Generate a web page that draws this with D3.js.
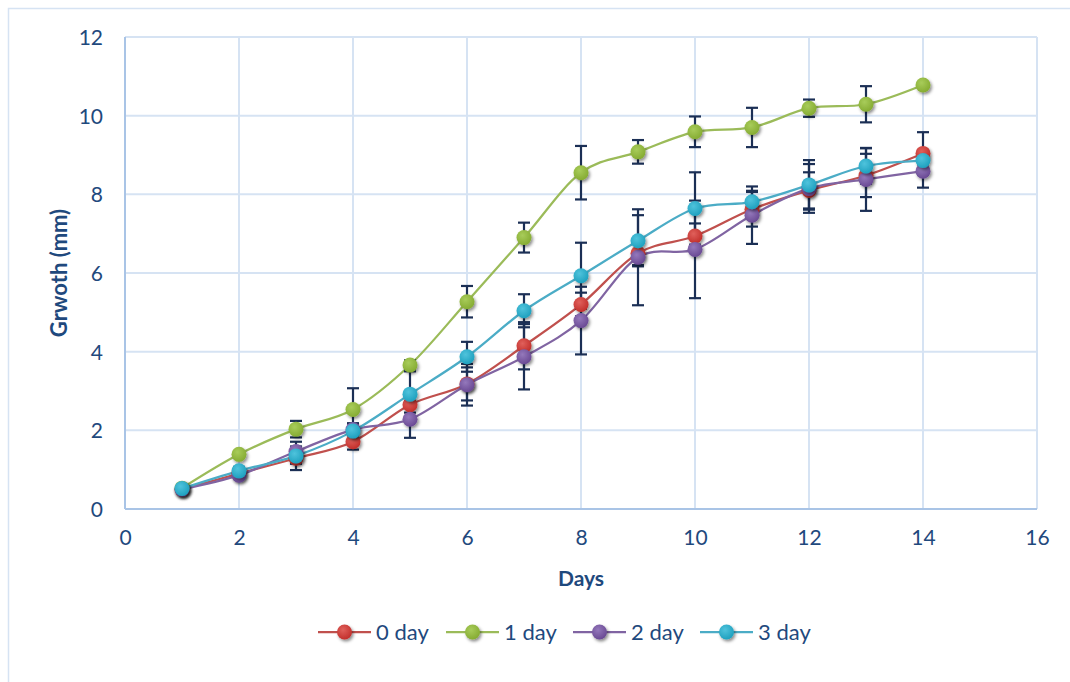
<!DOCTYPE html>
<html>
<head>
<meta charset="utf-8">
<script src="https://cdn.jsdelivr.net/npm/d3@7"></script>
<style>
  body { margin: 0; background: #fff; }
  svg { display: block; font-family: Lato, "Open Sans", sans-serif; }
</style>
</head>
<body>
<div id="chart"></div>
<script>
// ---- data ----
const days = [1, 2, 3, 4, 5, 6, 7, 8, 9, 10, 11, 12, 13, 14];
const seriesNames = ['0 day', '1 day', '2 day', '3 day'];

const day0 = [0.50, 0.90, 1.29, 1.71, 2.65, 3.18, 4.15, 5.20, 6.50, 6.94, 7.62, 8.10, 8.48, 9.04];
const day0Err = [0.05, 0.08, 0.30, 0.20, 0.20, 0.42, 0.60, 0.30, 0.30, 0.32, 0.44, 0.46, 0.55, 0.54];

const day1 = [0.53, 1.39, 2.03, 2.53, 3.66, 5.27, 6.90, 8.55, 9.08, 9.59, 9.70, 10.19, 10.29, 10.78];
const day1Err = [0.05, 0.08, 0.21, 0.54, 0.12, 0.40, 0.38, 0.68, 0.30, 0.39, 0.50, 0.22, 0.46, 0.05];

const day2 = [0.50, 0.86, 1.46, 2.02, 2.28, 3.16, 3.87, 4.79, 6.40, 6.60, 7.47, 8.15, 8.38, 8.59];
const day2Err = [0.05, 0.08, 0.25, 0.15, 0.47, 0.53, 0.83, 0.86, 1.22, 1.24, 0.73, 0.62, 0.80, 0.42];

const day3 = [0.52, 0.97, 1.35, 1.98, 2.92, 3.87, 5.04, 5.93, 6.82, 7.64, 7.81, 8.24, 8.72, 8.86];
const day3Err = [0.05, 0.10, 0.20, 0.20, 0.58, 0.38, 0.42, 0.84, 0.65, 0.92, 0.28, 0.63, 0.45, 0.10];

const xTicks = [0, 2, 4, 6, 8, 10, 12, 14, 16];
const yTicks = [0, 2, 4, 6, 8, 10, 12];

// colours: line, marker light, marker dark
const lineColors = ['#c0504d', '#9bbb59', '#8064a2', '#4bacc6'];
const markLight = ['#e0605b', '#a8cc5a', '#9478bb', '#4fc3dc'];
const markDark = ['#c2302c', '#86ac33', '#6a4a94', '#1fa1bf'];

const series = [day0, day1, day2, day3].map((vals, i) => ({
  name: seriesNames[i],
  idx: i,
  pts: days.map((d, j) => ({ x: d, y: vals[j], e: [day0Err, day1Err, day2Err, day3Err][i][j] }))
}));

// ---- layout ----
const W = 1070, H = 682;
const margin = { left: 125, right: 33, top: 37, bottom: 173 };
const textColor = '#1f497d';
const gridColor = '#d6e3f3';
const axisColor = '#a9c4e6';
const errColor = '#1b2f55';

const svg = d3.select('#chart').append('svg')
  .attr('width', W).attr('height', H);

// outer chart border
svg.append('rect')
  .attr('x', 8.5).attr('y', 8.5)
  .attr('width', W + 20).attr('height', H + 20)
  .attr('fill', 'none').attr('stroke', '#d6e3f3').attr('stroke-width', 1.5);

const x = d3.scaleLinear().domain([0, 16]).range([margin.left, W - margin.right]);
const y = d3.scaleLinear().domain([0, 12]).range([H - margin.bottom, margin.top]);

const defs = svg.append('defs');
const shadow = defs.append('filter').attr('id', 'shadow')
  .attr('x', '-50%').attr('y', '-50%').attr('width', '200%').attr('height', '200%');
shadow.append('feDropShadow')
  .attr('dx', 1.5).attr('dy', 2).attr('stdDeviation', 1.6)
  .attr('flood-color', '#000').attr('flood-opacity', 0.45);

series.forEach(s => {
  const g = defs.append('radialGradient').attr('id', 'grad' + s.idx)
    .attr('cx', '40%').attr('cy', '35%').attr('r', '65%');
  g.append('stop').attr('offset', '0%').attr('stop-color', markLight[s.idx]);
  g.append('stop').attr('offset', '100%').attr('stop-color', markDark[s.idx]);
});

// ---- grid ----
const grid = svg.append('g');
grid.selectAll('.hg').data(yTicks.filter(t => t > 0)).join('line')
  .attr('x1', x(0)).attr('x2', x(16))
  .attr('y1', d => y(d)).attr('y2', d => y(d))
  .attr('stroke', gridColor).attr('stroke-width', 2);
grid.selectAll('.vg').data(xTicks.filter(t => t > 0)).join('line')
  .attr('y1', y(0)).attr('y2', y(12))
  .attr('x1', d => x(d)).attr('x2', d => x(d))
  .attr('stroke', gridColor).attr('stroke-width', 2);

// axis lines
svg.append('line').attr('x1', x(0)).attr('x2', x(0)).attr('y1', y(0)).attr('y2', y(12))
  .attr('stroke', axisColor).attr('stroke-width', 2);
svg.append('line').attr('x1', x(0)).attr('x2', x(16)).attr('y1', y(0)).attr('y2', y(0))
  .attr('stroke', axisColor).attr('stroke-width', 2);

// tick labels via d3 axes
const yAxis = svg.append('g')
  .attr('transform', `translate(${x(0) - 22},0)`)
  .call(d3.axisLeft(y).tickValues(yTicks).tickSize(0).tickPadding(0));
const xAxis = svg.append('g')
  .attr('transform', `translate(0,${y(0) + 20})`)
  .call(d3.axisBottom(x).tickValues(xTicks).tickSize(0).tickPadding(0));
[xAxis, yAxis].forEach(a => {
  a.select('.domain').remove();
  a.selectAll('text').attr('fill', textColor).style('font-size', '21px')
    .style('font-family', 'Lato, "Open Sans", sans-serif');
});
yAxis.selectAll('text').attr('dy', '0.35em');
xAxis.selectAll('text').attr('dy', '0.75em');

// axis titles
svg.append('text')
  .attr('transform', `translate(67,${(y(0) + y(12)) / 2}) rotate(-90)`)
  .attr('text-anchor', 'middle')
  .attr('fill', textColor).style('font-size', '22px').style('font-weight', 'bold')
  .text('Grwoth (mm)');
svg.append('text')
  .attr('x', (x(0) + x(16)) / 2).attr('y', 586)
  .attr('text-anchor', 'middle')
  .attr('fill', textColor).style('font-size', '21px').style('font-weight', 'bold')
  .text('Days');

// ---- lines ----
const line = d3.line()
  .x(d => x(d.x)).y(d => y(d.y))
  .curve(d3.curveCardinal.tension(0));

svg.append('g').selectAll('path').data(series).join('path')
  .attr('d', s => line(s.pts))
  .attr('fill', 'none')
  .attr('stroke', s => lineColors[s.idx])
  .attr('stroke-width', 2.25);

// ---- error bars ----
const capW = 6;
const eb = svg.append('g').attr('stroke', errColor).attr('stroke-width', 2.2);
series.forEach(s => {
  const g = eb.append('g');
  g.selectAll('.stem').data(s.pts).join('line')
    .attr('x1', d => x(d.x)).attr('x2', d => x(d.x))
    .attr('y1', d => y(d.y + d.e)).attr('y2', d => y(d.y - d.e));
  g.selectAll('.capt').data(s.pts).join('line')
    .attr('x1', d => x(d.x) - capW).attr('x2', d => x(d.x) + capW)
    .attr('y1', d => y(d.y + d.e)).attr('y2', d => y(d.y + d.e));
  g.selectAll('.capb').data(s.pts).join('line')
    .attr('x1', d => x(d.x) - capW).attr('x2', d => x(d.x) + capW)
    .attr('y1', d => y(d.y - d.e)).attr('y2', d => y(d.y - d.e));
});

// ---- markers ----
series.forEach(s => {
  svg.append('g').attr('filter', 'url(#shadow)')
    .selectAll('circle').data(s.pts).join('circle')
    .attr('cx', d => x(d.x)).attr('cy', d => y(d.y)).attr('r', 7.5)
    .attr('fill', `url(#grad${s.idx})`);
});

// ---- legend ----
const legendX = [318, 446, 573, 700];
const legend = svg.append('g').selectAll('g').data(series).join('g')
  .attr('transform', (s, i) => `translate(${legendX[i]},632)`);
legend.append('line')
  .attr('x1', 0).attr('x2', 53).attr('y1', 0).attr('y2', 0)
  .attr('stroke', s => lineColors[s.idx]).attr('stroke-width', 2.25);
legend.append('circle')
  .attr('cx', 26.5).attr('cy', 0).attr('r', 7.5)
  .attr('fill', s => `url(#grad${s.idx})`)
  .attr('filter', 'url(#shadow)');
legend.append('text')
  .attr('x', 58).attr('y', 0).attr('dy', '0.35em')
  .attr('fill', textColor).style('font-size', '22px')
  .text(s => s.name);
</script>
</body>
</html>
